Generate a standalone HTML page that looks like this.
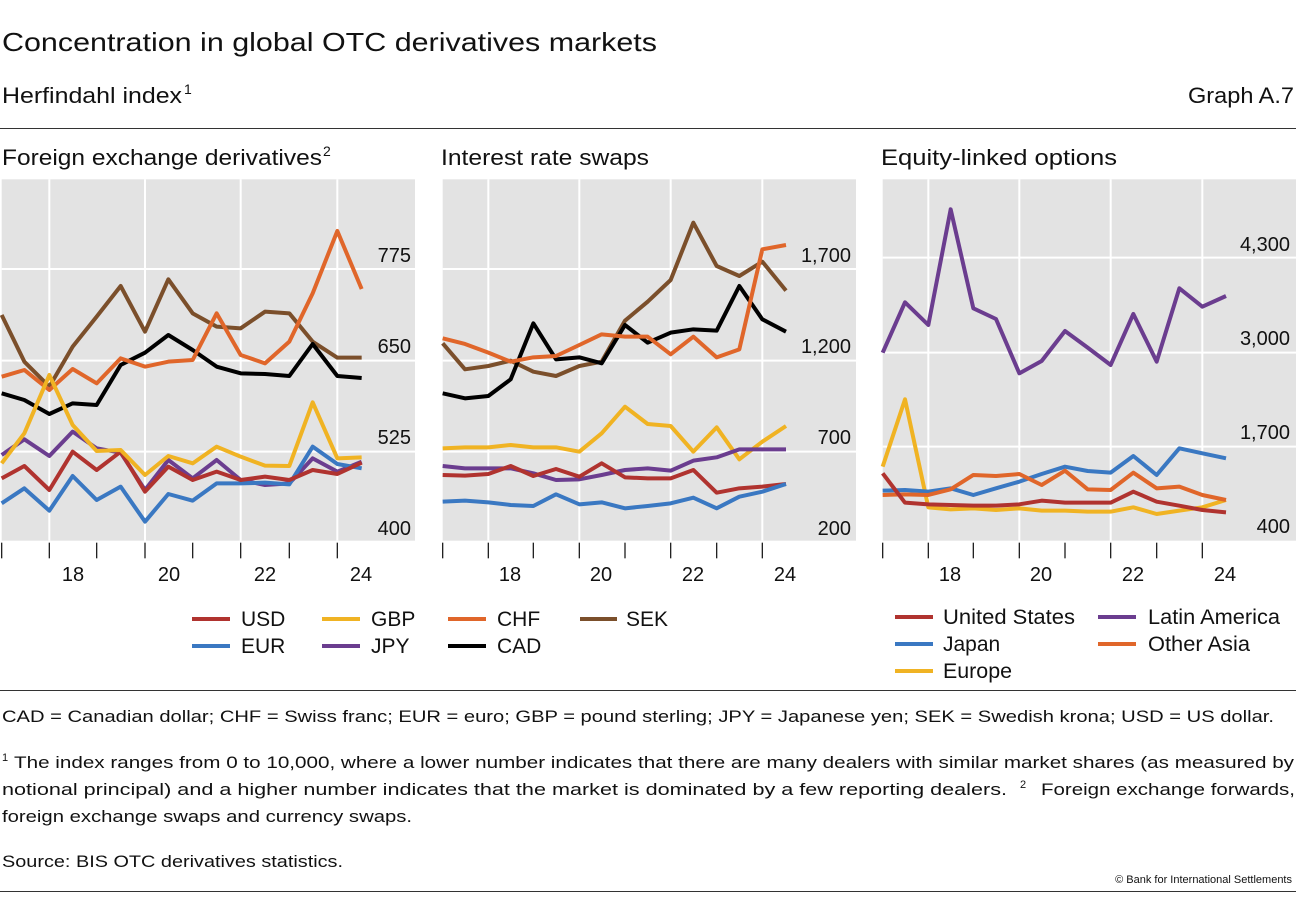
<!DOCTYPE html>
<html><head><meta charset="utf-8"><style>
html,body{margin:0;padding:0;background:#fff;}
body{width:1296px;height:900px;overflow:hidden;font-family:"Liberation Sans",sans-serif;}
svg text{font-family:"Liberation Sans",sans-serif;fill:#111;}
</style></head><body>
<svg width="1296" height="900" xmlns="http://www.w3.org/2000/svg">
<text x="2" y="51" font-size="26" textLength="655" lengthAdjust="spacingAndGlyphs">Concentration in global OTC derivatives markets</text>
<text x="2" y="103" font-size="22" textLength="180" lengthAdjust="spacingAndGlyphs">Herfindahl index</text>
<text x="184" y="94" font-size="14">1</text>
<text x="1294" y="103" font-size="22" text-anchor="end" textLength="106" lengthAdjust="spacingAndGlyphs">Graph A.7</text>
<line x1="0" y1="128.5" x2="1296" y2="128.5" stroke="#333" stroke-width="1"/>
<text x="2" y="165" font-size="22" textLength="320" lengthAdjust="spacingAndGlyphs">Foreign exchange derivatives</text>
<text x="323" y="156" font-size="14">2</text>
<text x="441" y="165" font-size="22" textLength="208" lengthAdjust="spacingAndGlyphs">Interest rate swaps</text>
<text x="881" y="165" font-size="22" textLength="236" lengthAdjust="spacingAndGlyphs">Equity-linked options</text>

<!-- Panel 1 -->
<g transform="translate(0,170) scale(0.33333)" fill="none" stroke-linejoin="round">
<rect x="5" y="28" width="1240" height="1084" fill="#e3e3e3" stroke="none"/>
<g stroke="#fff" stroke-width="6">
<line x1="148" y1="28" x2="148" y2="1112"/><line x1="435" y1="28" x2="435" y2="1112"/><line x1="722" y1="28" x2="722" y2="1112"/><line x1="1012" y1="28" x2="1012" y2="1112"/>
<line x1="5" y1="297" x2="1245" y2="297"/><line x1="5" y1="572" x2="1245" y2="572"/><line x1="5" y1="845" x2="1245" y2="845"/>
</g>
<g stroke="#222" stroke-width="4">
<line x1="5" y1="1118" x2="5" y2="1165"/><line x1="148" y1="1118" x2="148" y2="1165"/><line x1="290" y1="1118" x2="290" y2="1165"/><line x1="435" y1="1118" x2="435" y2="1165"/><line x1="578" y1="1118" x2="578" y2="1165"/><line x1="722" y1="1118" x2="722" y2="1165"/><line x1="868" y1="1118" x2="868" y2="1165"/><line x1="1012" y1="1118" x2="1012" y2="1165"/>
</g>
<g stroke-width="12">
<polyline stroke="#7b4f2b" points="5,435 73,575 148,650 218,530 290,440 362,348 435,485 505,328 578,430 650,470 722,475 795,425 868,430 938,515 1012,563 1085,563"/>
<polyline stroke="#000" points="5,670 73,690 148,732 218,700 290,705 362,585 435,548 505,495 578,540 650,590 722,610 795,612 868,618 938,522 1012,618 1085,624"/>
<polyline stroke="#e0662a" points="5,620 73,600 148,660 218,597 290,640 362,565 435,590 505,575 578,570 650,430 722,555 795,580 868,515 938,370 1012,183 1085,357"/>
<polyline stroke="#6b3d8f" points="5,855 73,808 148,858 218,785 290,835 362,848 435,960 505,870 578,925 650,870 722,930 795,945 868,940 938,865 1012,905 1085,875"/>
<polyline stroke="#3a78c2" points="5,1000 73,955 148,1022 218,918 290,990 362,950 435,1055 505,972 578,992 650,940 722,940 795,938 868,943 938,830 1012,882 1085,895"/>
<polyline stroke="#b0332f" points="5,925 73,888 148,960 218,845 290,900 362,845 435,965 505,890 578,930 650,905 722,930 795,920 868,930 938,900 1012,912 1085,878"/>
<polyline stroke="#f0b323" points="5,880 73,790 148,615 218,765 290,843 362,840 435,915 505,858 578,880 650,830 722,860 795,887 868,888 938,697 1012,865 1085,862"/>
</g>
</g>
<g font-size="20" text-anchor="end">
<text x="411" y="262">775</text><text x="411" y="353">650</text><text x="411" y="444">525</text><text x="411" y="535">400</text>
</g>
<g font-size="20" text-anchor="middle">
<text x="73" y="581">18</text><text x="169" y="581">20</text><text x="265" y="581">22</text><text x="361" y="581">24</text>
</g>

<!-- Panel 2 -->
<g transform="translate(430,170) scale(0.33333)" fill="none" stroke-linejoin="round">
<rect x="38" y="28" width="1240" height="1084" fill="#e3e3e3" stroke="none"/>
<g stroke="#fff" stroke-width="6">
<line x1="175" y1="28" x2="175" y2="1112"/><line x1="448" y1="28" x2="448" y2="1112"/><line x1="722" y1="28" x2="722" y2="1112"/><line x1="997" y1="28" x2="997" y2="1112"/>
<line x1="38" y1="297" x2="1278" y2="297"/><line x1="38" y1="572" x2="1278" y2="572"/><line x1="38" y1="845" x2="1278" y2="845"/>
</g>
<g stroke="#222" stroke-width="4">
<line x1="38" y1="1118" x2="38" y2="1165"/><line x1="175" y1="1118" x2="175" y2="1165"/><line x1="310" y1="1118" x2="310" y2="1165"/><line x1="448" y1="1118" x2="448" y2="1165"/><line x1="585" y1="1118" x2="585" y2="1165"/><line x1="722" y1="1118" x2="722" y2="1165"/><line x1="860" y1="1118" x2="860" y2="1165"/><line x1="997" y1="1118" x2="997" y2="1165"/>
</g>
<g stroke-width="12">
<polyline stroke="#7b4f2b" points="38,520 105,598 175,588 242,572 310,605 378,618 448,588 515,575 585,452 653,395 722,330 790,158 860,288 928,318 997,275 1068,362"/>
<polyline stroke="#000" points="38,670 105,685 175,678 242,628 310,460 378,568 448,562 515,580 585,465 653,518 722,488 790,478 860,482 928,348 997,448 1068,485"/>
<polyline stroke="#e0662a" points="38,505 105,522 175,548 242,575 310,562 378,558 448,525 515,493 585,500 653,500 722,553 790,500 860,562 928,538 997,238 1068,225"/>
<polyline stroke="#f0b323" points="38,835 105,832 175,832 242,825 310,832 378,832 448,845 515,790 585,710 653,762 722,768 790,845 860,772 928,868 997,815 1068,768"/>
<polyline stroke="#6b3d8f" points="38,888 105,895 175,895 242,895 310,910 378,930 448,928 515,915 585,900 653,895 722,902 790,872 860,862 928,838 997,838 1068,838"/>
<polyline stroke="#b0332f" points="38,915 105,917 175,912 242,888 310,918 378,897 448,920 515,880 585,922 653,925 722,925 790,900 860,968 928,955 997,950 1068,942"/>
<polyline stroke="#3a78c2" points="38,995 105,992 175,997 242,1005 310,1008 378,973 448,1003 515,997 585,1015 653,1008 722,1000 790,983 860,1015 928,980 997,965 1068,942"/>
</g>
</g>
<g font-size="20" text-anchor="end">
<text x="851" y="262">1,700</text><text x="851" y="353">1,200</text><text x="851" y="444">700</text><text x="851" y="535">200</text>
</g>
<g font-size="20" text-anchor="middle">
<text x="510" y="581">18</text><text x="601" y="581">20</text><text x="693" y="581">22</text><text x="785" y="581">24</text>
</g>

<!-- Panel 3 -->
<g transform="translate(870,170) scale(0.33333)" fill="none" stroke-linejoin="round">
<rect x="38" y="28" width="1240" height="1084" fill="#e3e3e3" stroke="none"/>
<g stroke="#fff" stroke-width="6">
<line x1="175" y1="28" x2="175" y2="1112"/><line x1="448" y1="28" x2="448" y2="1112"/><line x1="722" y1="28" x2="722" y2="1112"/><line x1="997" y1="28" x2="997" y2="1112"/>
<line x1="38" y1="263" x2="1278" y2="263"/><line x1="38" y1="548" x2="1278" y2="548"/><line x1="38" y1="830" x2="1278" y2="830"/>
</g>
<g stroke="#222" stroke-width="4">
<line x1="38" y1="1118" x2="38" y2="1165"/><line x1="175" y1="1118" x2="175" y2="1165"/><line x1="310" y1="1118" x2="310" y2="1165"/><line x1="448" y1="1118" x2="448" y2="1165"/><line x1="585" y1="1118" x2="585" y2="1165"/><line x1="722" y1="1118" x2="722" y2="1165"/><line x1="860" y1="1118" x2="860" y2="1165"/><line x1="997" y1="1118" x2="997" y2="1165"/>
</g>
<g stroke-width="12">
<polyline stroke="#6b3d8f" points="38,548 105,397 175,465 242,118 310,415 378,447 448,610 515,573 585,483 653,533 722,585 790,432 860,575 928,355 997,410 1068,378"/>
<polyline stroke="#f0b323" points="38,890 105,688 175,1012 242,1018 310,1015 378,1020 448,1015 515,1022 585,1022 653,1025 722,1025 790,1012 860,1032 928,1022 997,1012 1068,990"/>
<polyline stroke="#3a78c2" points="38,962 105,960 175,965 242,955 310,975 378,955 448,935 515,912 585,890 653,903 722,908 790,858 860,915 928,835 997,850 1068,865"/>
<polyline stroke="#e0662a" points="38,975 105,973 175,975 242,958 310,915 378,918 448,912 515,945 585,902 653,958 722,960 790,908 860,955 928,950 997,975 1068,990"/>
<polyline stroke="#b0332f" points="38,910 105,998 175,1003 242,1005 310,1007 378,1007 448,1003 515,992 585,998 653,998 722,998 790,965 860,995 928,1007 997,1020 1068,1027"/>
</g>
</g>
<g font-size="20" text-anchor="end">
<text x="1290" y="251">4,300</text><text x="1290" y="345">3,000</text><text x="1290" y="439">1,700</text><text x="1290" y="533">400</text>
</g>
<g font-size="20" text-anchor="middle">
<text x="950" y="581">18</text><text x="1041" y="581">20</text><text x="1133" y="581">22</text><text x="1225" y="581">24</text>
</g>

<!-- Legends -->
<g stroke-width="4">
<line x1="192" y1="619" x2="230" y2="619" stroke="#b0332f"/>
<line x1="322" y1="619" x2="360" y2="619" stroke="#f0b323"/>
<line x1="448" y1="619" x2="486" y2="619" stroke="#e0662a"/>
<line x1="580" y1="619" x2="617" y2="619" stroke="#7b4f2b"/>
<line x1="192" y1="646" x2="230" y2="646" stroke="#3a78c2"/>
<line x1="322" y1="646" x2="360" y2="646" stroke="#6b3d8f"/>
<line x1="448" y1="646" x2="486" y2="646" stroke="#000"/>
<line x1="895" y1="617" x2="933" y2="617" stroke="#b0332f"/>
<line x1="1098" y1="617" x2="1136" y2="617" stroke="#6b3d8f"/>
<line x1="895" y1="644" x2="933" y2="644" stroke="#3a78c2"/>
<line x1="1098" y1="644" x2="1136" y2="644" stroke="#e0662a"/>
<line x1="895" y1="671" x2="933" y2="671" stroke="#f0b323"/>
</g>
<g font-size="21">
<text x="241" y="626">USD</text><text x="371" y="626">GBP</text><text x="497" y="626">CHF</text><text x="626" y="626">SEK</text>
<text x="241" y="653">EUR</text><text x="371" y="653">JPY</text><text x="497" y="653">CAD</text>
<text x="943" y="624" textLength="132" lengthAdjust="spacingAndGlyphs">United States</text><text x="1148" y="624" textLength="132" lengthAdjust="spacingAndGlyphs">Latin America</text>
<text x="943" y="651">Japan</text><text x="1148" y="651" textLength="102" lengthAdjust="spacingAndGlyphs">Other Asia</text>
<text x="943" y="678" textLength="69" lengthAdjust="spacingAndGlyphs">Europe</text>
</g>

<line x1="0" y1="690.5" x2="1296" y2="690.5" stroke="#333" stroke-width="1"/>
<g font-size="17">
<text x="2" y="722" textLength="1272" lengthAdjust="spacingAndGlyphs">CAD = Canadian dollar; CHF = Swiss franc; EUR = euro; GBP = pound sterling; JPY = Japanese yen; SEK = Swedish krona; USD = US dollar.</text>
<text x="2" y="761" font-size="11">1</text>
<text x="14" y="768" textLength="1280" lengthAdjust="spacingAndGlyphs">The index ranges from 0 to 10,000, where a lower number indicates that there are many dealers with similar market shares (as measured by</text>
<text x="2" y="795" textLength="1005" lengthAdjust="spacingAndGlyphs">notional principal) and a higher number indicates that the market is dominated by a few reporting dealers.</text>
<text x="1020" y="788" font-size="11">2</text>
<text x="1041" y="795" textLength="254" lengthAdjust="spacingAndGlyphs">Foreign exchange forwards,</text>
<text x="2" y="822" textLength="410" lengthAdjust="spacingAndGlyphs">foreign exchange swaps and currency swaps.</text>
<text x="2" y="867" textLength="341" lengthAdjust="spacingAndGlyphs">Source: BIS OTC derivatives statistics.</text>
</g>
<text x="1292" y="883" font-size="11" text-anchor="end">© Bank for International Settlements</text>
<line x1="0" y1="891.5" x2="1296" y2="891.5" stroke="#333" stroke-width="1"/>
</svg>
</body></html>
